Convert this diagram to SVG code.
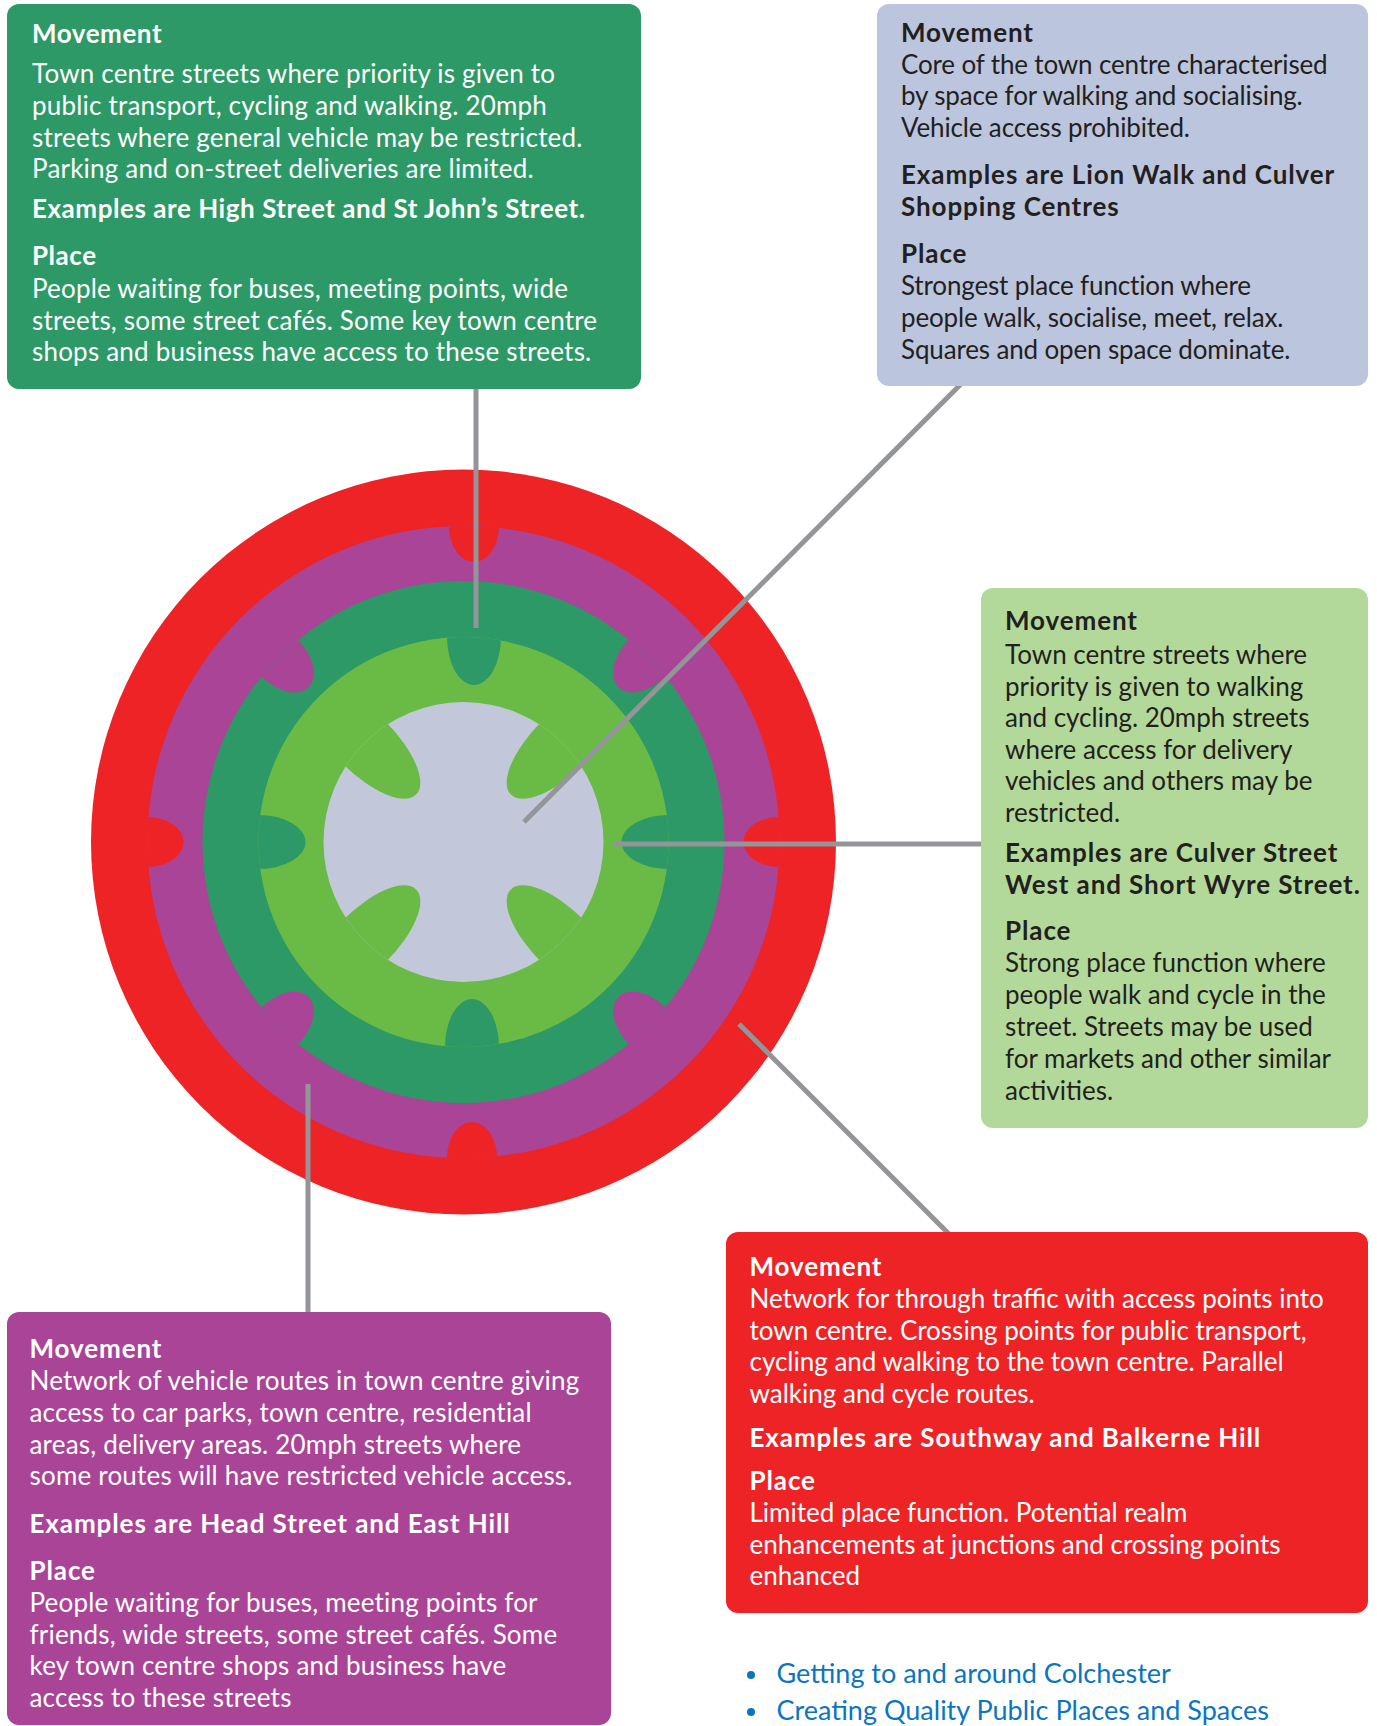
<svg xmlns="http://www.w3.org/2000/svg" width="1377" height="1726" viewBox="0 0 1377 1726">
<style>
text{font-family:Lato,"Liberation Sans",sans-serif;font-size:26px}
.w{fill:#ffffff;letter-spacing:0.2px}
.d{fill:#231F20}
.b{font-weight:700;letter-spacing:0.9px}
#box-street .b{letter-spacing:0.55px}
#box-through .w{letter-spacing:0px}
#box-through .b{letter-spacing:0.9px}
#box-core .d{letter-spacing:-0.15px}
#box-core .b{letter-spacing:0.9px}
.conn line{stroke:#939598;stroke-width:5}
.lnk{fill:#0B75BF;font-size:27px}
</style>
<defs>
<clipPath id="cPur"><circle cx="463.5" cy="842" r="316"/></clipPath>
<clipPath id="cDg"><circle cx="463.5" cy="842" r="261"/></clipPath>
<clipPath id="cLg"><circle cx="463.5" cy="842" r="205"/></clipPath>
<clipPath id="cGr"><circle cx="463.5" cy="842" r="140"/></clipPath>
</defs>
<rect width="1377" height="1726" fill="#ffffff"/>

<g id="rings">
<circle cx="463.5" cy="842" r="372.5" fill="#EE2326"/>
<circle cx="463.5" cy="842" r="316" fill="#AA4497"/>
<g clip-path="url(#cPur)" fill="#EE2326">
<ellipse cx="474" cy="526" rx="25" ry="36"/>
<ellipse cx="472" cy="1158" rx="25" ry="36"/>
<ellipse cx="147.5" cy="842" rx="36" ry="25"/>
<ellipse cx="779.5" cy="842" rx="36" ry="25"/>
</g>
<circle cx="463.5" cy="842" r="261" fill="#2D9966"/>
<g clip-path="url(#cDg)" fill="#AA4497">
<ellipse cx="0" cy="0" rx="26" ry="42" transform="translate(463.5 842) rotate(45) translate(0 -261)"/>
<ellipse cx="0" cy="0" rx="26" ry="42" transform="translate(463.5 842) rotate(135) translate(0 -261)"/>
<ellipse cx="0" cy="0" rx="26" ry="42" transform="translate(463.5 842) rotate(225) translate(0 -261)"/>
<ellipse cx="0" cy="0" rx="26" ry="42" transform="translate(463.5 842) rotate(315) translate(0 -261)"/>
</g>
<circle cx="463.5" cy="842" r="205" fill="#6ABB46"/>
<g clip-path="url(#cLg)" fill="#2D9966">
<ellipse cx="474" cy="637" rx="27" ry="48"/>
<ellipse cx="472" cy="1047" rx="27" ry="48"/>
<ellipse cx="258.5" cy="842" rx="47" ry="27"/>
<ellipse cx="668.5" cy="842" rx="47" ry="27"/>
</g>
<circle cx="463.5" cy="842" r="140" fill="#C2C8DA"/>
<g clip-path="url(#cGr)" fill="#6ABB46">
<ellipse cx="0" cy="0" rx="30" ry="73" transform="translate(463.5 842) rotate(45) translate(0 -140)"/>
<ellipse cx="0" cy="0" rx="30" ry="73" transform="translate(463.5 842) rotate(135) translate(0 -140)"/>
<ellipse cx="0" cy="0" rx="30" ry="73" transform="translate(463.5 842) rotate(225) translate(0 -140)"/>
<ellipse cx="0" cy="0" rx="30" ry="73" transform="translate(463.5 842) rotate(315) translate(0 -140)"/>
</g>
</g>

<g id="connectors" class="conn">
<line x1="476" y1="388" x2="476" y2="628"/>
<line x1="961" y1="384" x2="524" y2="822"/>
<line x1="614" y1="844" x2="982" y2="844"/>
<line x1="739" y1="1024" x2="949" y2="1234"/>
<line x1="308" y1="1084" x2="308" y2="1313"/>
</g>

<g id="box-street">
<rect x="7" y="4" width="634" height="385" rx="12" fill="#2D9966"/>
<text class="w b" x="32" y="43">Movement</text>
<text class="w" x="32" y="83">Town centre streets where priority is given to</text>
<text class="w" x="32" y="114.5">public transport, cycling and walking. 20mph</text>
<text class="w" x="32" y="146.5">streets where general vehicle may be restricted.</text>
<text class="w" x="32" y="178">Parking and on-street deliveries are limited.</text>
<text class="w b" x="32" y="218">Examples are High Street and St John’s Street.</text>
<text class="w b" x="32" y="265">Place</text>
<text class="w" x="32" y="297.5">People waiting for buses, meeting points, wide</text>
<text class="w" x="32" y="329.5">streets, some street cafés. Some key town centre</text>
<text class="w" x="32" y="361">shops and business have access to these streets.</text>
</g>

<g id="box-core">
<rect x="877" y="4" width="491" height="382" rx="12" fill="#BBC5DE"/>
<text class="d b" x="901" y="41.5">Movement</text>
<text class="d" x="901" y="73.5">Core of the town centre characterised</text>
<text class="d" x="901" y="105">by space for walking and socialising.</text>
<text class="d" x="901" y="137">Vehicle access prohibited.</text>
<text class="d b" x="901" y="184">Examples are Lion Walk and Culver</text>
<text class="d b" x="901" y="216">Shopping Centres</text>
<text class="d b" x="901" y="262.5">Place</text>
<text class="d" x="901" y="295">Strongest place function where</text>
<text class="d" x="901" y="327">people walk, socialise, meet, relax.</text>
<text class="d" x="901" y="359">Squares and open space dominate.</text>
</g>

<g id="box-pedestrian">
<rect x="981" y="588" width="387" height="540" rx="12" fill="#B3D99A"/>
<text class="d b" x="1005" y="630">Movement</text>
<text class="d" x="1005" y="663.5">Town centre streets where</text>
<text class="d" x="1005" y="695.5">priority is given to walking</text>
<text class="d" x="1005" y="727">and cycling. 20mph streets</text>
<text class="d" x="1005" y="759">where access for delivery</text>
<text class="d" x="1005" y="790">vehicles and others may be</text>
<text class="d" x="1005" y="821.5">restricted.</text>
<text class="d b" x="1005" y="861.5">Examples are Culver Street</text>
<text class="d b" x="1005" y="893.5">West and Short Wyre Street.</text>
<text class="d b" x="1005" y="940">Place</text>
<text class="d" x="1005" y="972">Strong place function where</text>
<text class="d" x="1005" y="1004">people walk and cycle in the</text>
<text class="d" x="1005" y="1036">street. Streets may be used</text>
<text class="d" x="1005" y="1067.5">for markets and other similar</text>
<text class="d" x="1005" y="1099.5">activities.</text>
</g>

<g id="box-through">
<rect x="726" y="1232" width="642" height="381" rx="12" fill="#EE2326"/>
<text class="w b" x="749.5" y="1276">Movement</text>
<text class="w" x="749.5" y="1308">Network for through traffic with access points into</text>
<text class="w" x="749.5" y="1339.5">town centre. Crossing points for public transport,</text>
<text class="w" x="749.5" y="1371">cycling and walking to the town centre. Parallel</text>
<text class="w" x="749.5" y="1402.5">walking and cycle routes.</text>
<text class="w b" x="749.5" y="1446.5">Examples are Southway and Balkerne Hill</text>
<text class="w b" x="749.5" y="1489.5">Place</text>
<text class="w" x="749.5" y="1521.5">Limited place function. Potential realm</text>
<text class="w" x="749.5" y="1553.5">enhancements at junctions and crossing points</text>
<text class="w" x="749.5" y="1585">enhanced</text>
</g>

<g id="box-vehicle">
<rect x="7" y="1312" width="604" height="413" rx="12" fill="#AA4497"/>
<text class="w b" x="29.5" y="1358">Movement</text>
<text class="w" x="29.5" y="1390">Network of vehicle routes in town centre giving</text>
<text class="w" x="29.5" y="1421.5">access to car parks, town centre, residential</text>
<text class="w" x="29.5" y="1453.5">areas, delivery areas. 20mph streets where</text>
<text class="w" x="29.5" y="1485">some routes will have restricted vehicle access.</text>
<text class="w b" x="29.5" y="1532.5">Examples are Head Street and East Hill</text>
<text class="w b" x="29.5" y="1579.5">Place</text>
<text class="w" x="29.5" y="1611.5">People waiting for buses, meeting points for</text>
<text class="w" x="29.5" y="1643.5">friends, wide streets, some street cafés. Some</text>
<text class="w" x="29.5" y="1675">key town centre shops and business have</text>
<text class="w" x="29.5" y="1706.5">access to these streets</text>
</g>

<g id="links">
<circle cx="751" cy="1675" r="4" fill="#0B75BF"/>
<text class="lnk" x="776.5" y="1683">Getting to and around Colchester</text>
<circle cx="751" cy="1712" r="4" fill="#0B75BF"/>
<text class="lnk" x="776.5" y="1720">Creating Quality Public Places and Spaces</text>
</g>
</svg>
